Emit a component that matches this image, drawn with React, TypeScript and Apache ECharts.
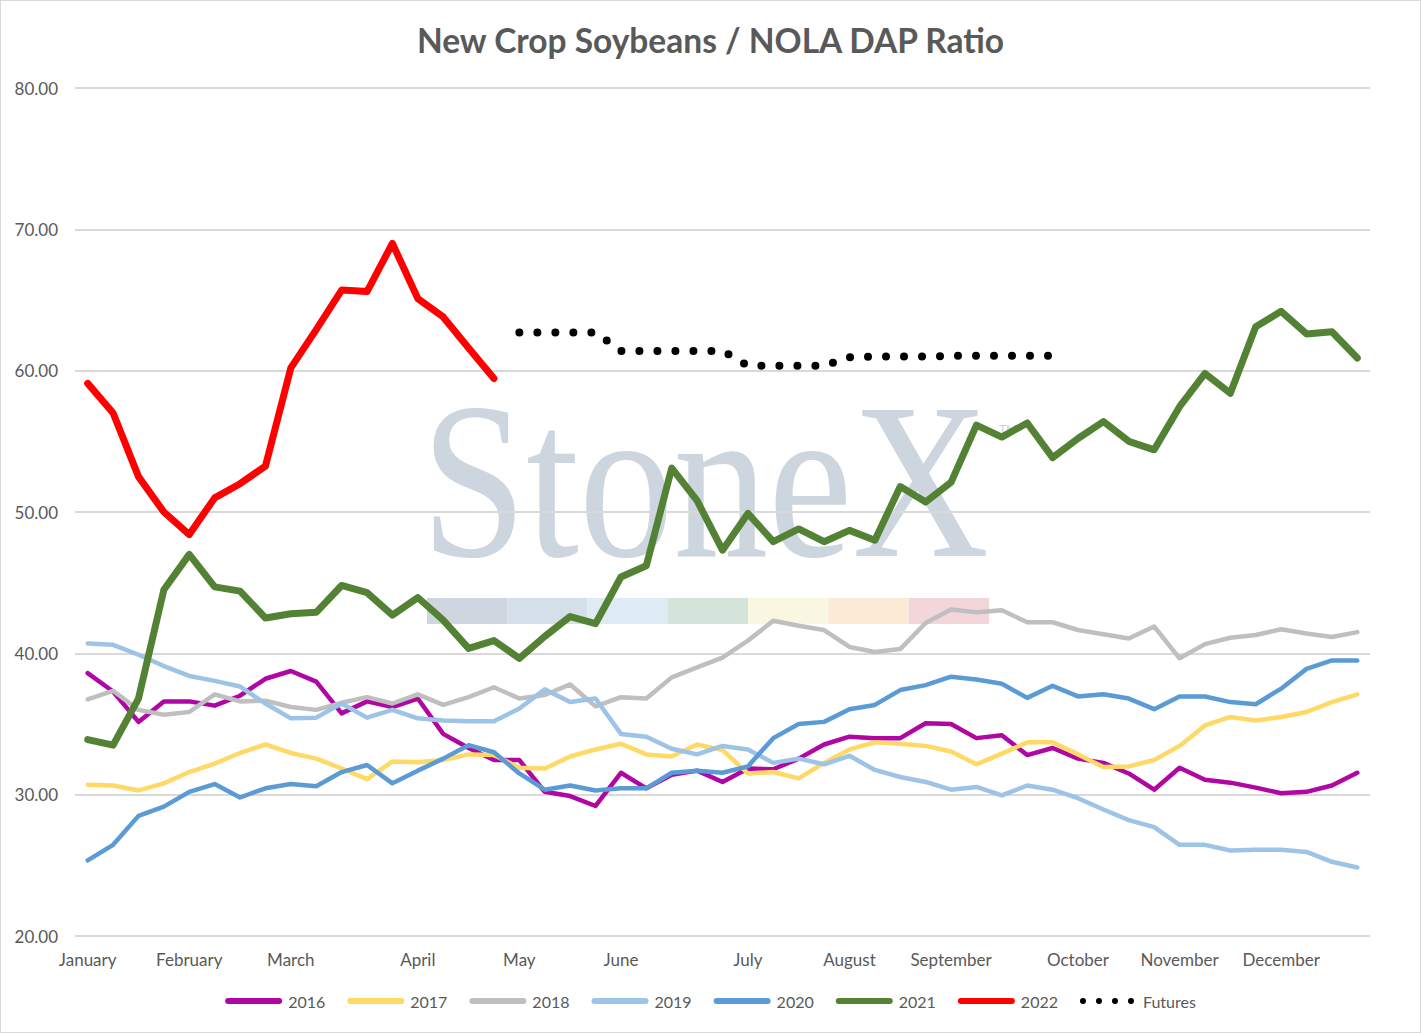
import React, { useEffect, useRef } from "react";
import * as echarts from "echarts";

// weekly points, "Mon-n" = n-th week of the month
const weeks = [
  "Jan-1", "Jan-2", "Jan-3", "Jan-4",
  "Feb-1", "Feb-2", "Feb-3", "Feb-4",
  "Mar-1", "Mar-2", "Mar-3", "Mar-4", "Mar-5",
  "Apr-1", "Apr-2", "Apr-3", "Apr-4",
  "May-1", "May-2", "May-3", "May-4",
  "Jun-1", "Jun-2", "Jun-3", "Jun-4", "Jun-5",
  "Jul-1", "Jul-2", "Jul-3", "Jul-4",
  "Aug-1", "Aug-2", "Aug-3", "Aug-4",
  "Sep-1", "Sep-2", "Sep-3", "Sep-4", "Sep-5",
  "Oct-1", "Oct-2", "Oct-3", "Oct-4",
  "Nov-1", "Nov-2", "Nov-3", "Nov-4",
  "Dec-1", "Dec-2", "Dec-3", "Dec-4",
];

const monthNames: Record<string, string> = {
  Jan: "January", Feb: "February", Mar: "March", Apr: "April", May: "May", Jun: "June",
  Jul: "July", Aug: "August", Sep: "September", Oct: "October", Nov: "November", Dec: "December",
};

const yTicks = [20, 30, 40, 50, 60, 70, 80];

const y2016 = [
  38.6, 37.3, 35.15, 36.6, 36.6, 36.3, 37.0, 38.2, 38.75, 38.0, 35.75, 36.6, 36.2,
  36.8, 34.3, 33.3, 32.45, 32.45, 30.2, 29.9, 29.2, 31.55, 30.45, 31.4, 31.7, 30.9,
  31.85, 31.8, 32.55, 33.55, 34.1, 34.0, 34.0, 35.05, 35.0, 34.0, 34.2, 32.8, 33.3,
  32.55, 32.25, 31.5, 30.35, 31.9, 31.05, 30.85, 30.5, 30.1, 30.2, 30.65, 31.55,
];
const y2017 = [
  30.7, 30.65, 30.3, 30.8, 31.6, 32.2, 32.95, 33.55, 32.95, 32.55, 31.85, 31.1, 32.35,
  32.3, 32.45, 32.85, 32.8, 31.9, 31.85, 32.7, 33.2, 33.6, 32.85, 32.7, 33.55, 33.15,
  31.5, 31.6, 31.15, 32.25, 33.2, 33.7, 33.6, 33.45, 33.05, 32.15, 32.9, 33.7, 33.7,
  32.85, 31.95, 32.0, 32.45, 33.45, 34.9, 35.5, 35.25, 35.5, 35.85, 36.55, 37.1,
];
const y2018 = [
  36.75, 37.35, 36.0, 35.65, 35.85, 37.1, 36.6, 36.65, 36.2, 36.0, 36.5, 36.9, 36.45,
  37.1, 36.35, 36.9, 37.6, 36.8, 37.05, 37.8, 36.25, 36.9, 36.8, 38.3, 39.0, 39.7,
  40.9, 42.3, 41.95, 41.65, 40.45, 40.1, 40.3, 42.15, 43.1, 42.9, 43.05, 42.2, 42.2,
  41.65, 41.35, 41.05, 41.9, 39.65, 40.65, 41.1, 41.3, 41.7, 41.4, 41.15, 41.5,
];
const y2019 = [
  40.7, 40.6, 39.9, 39.1, 38.4, 38.05, 37.65, 36.45, 35.4, 35.45, 36.45, 35.45, 36.0,
  35.4, 35.25, 35.2, 35.2, 36.1, 37.45, 36.55, 36.8, 34.3, 34.1, 33.25, 32.85, 33.45,
  33.2, 32.25, 32.55, 32.15, 32.75, 31.75, 31.25, 30.9, 30.35, 30.55, 29.95, 30.65, 30.35,
  29.75, 28.95, 28.2, 27.7, 26.45, 26.45, 26.05, 26.1, 26.1, 25.95, 25.25, 24.85,
];
const y2020 = [
  25.35, 26.45, 28.5, 29.15, 30.2, 30.75, 29.8, 30.45, 30.75, 30.6, 31.6, 32.1, 30.8,
  31.7, 32.55, 33.5, 33.0, 31.5, 30.35, 30.65, 30.3, 30.45, 30.45, 31.55, 31.7, 31.55,
  32.0, 34.0, 35.0, 35.15, 36.05, 36.35, 37.4, 37.75, 38.35, 38.15, 37.85, 36.85, 37.7,
  36.95, 37.1, 36.8, 36.05, 36.95, 36.95, 36.55, 36.4, 37.5, 38.9, 39.5, 39.5,
];
const y2021 = [
  33.9, 33.5, 36.8, 44.5, 47.0, 44.7, 44.4, 42.5, 42.8, 42.9, 44.8, 44.3, 42.7,
  43.95, 42.35, 40.35, 40.9, 39.65, 41.2, 42.6, 42.1, 45.4, 46.2, 53.1, 50.8, 47.3,
  49.9, 47.9, 48.8, 47.9, 48.7, 48.0, 51.8, 50.7, 52.1, 56.15, 55.3, 56.3, 53.85,
  55.2, 56.4, 55.0, 54.4, 57.45, 59.8, 58.4, 63.1, 64.2, 62.6, 62.75, 60.9,
];
const y2022 = [
  59.1, 57.0, 52.5, 50.0, 48.4, 51.0, 52.0, 53.25, 60.2, 62.9, 65.7, 65.6, 69.0,
  65.1, 63.8, 61.6, 59.45,
];
// futures start at the first week of May
const futuresStart = 17;
const futures = [
  62.7, 62.7, 62.7, 62.7, 61.4, 61.4, 61.4, 61.4, 61.4, 60.35, 60.35,
  60.35, 60.35, 60.95, 61.0, 61.0, 61.0, 61.05, 61.05, 61.05, 61.05, 61.05,
];

const FONT = "Lato, 'Noto Sans', sans-serif";
const TEXT = "#595959";
const bandColors = ["#cfd6df", "#d5dfea", "#deebf5", "#d5e4da", "#f9f7e1", "#fbead5", "#f2d6d9"];

function line(name: string, data: (number | null)[], color: string, width: number) {
  return {
    name,
    type: "line",
    data,
    symbol: "none",
    silent: true,
    lineStyle: { color, width, cap: "round", join: "round" },
    itemStyle: { color },
    emphasis: { disabled: true },
  };
}

export default function App() {
  const ref = useRef<HTMLDivElement | null>(null);

  useEffect(() => {
    document.body.style.margin = "0";
    const chart = echarts.init(ref.current!, undefined, { renderer: "svg" });

    const futuresData = weeks.map((_, i) =>
      i >= futuresStart && i - futuresStart < futures.length ? futures[i - futuresStart] : null
    );

    // watermark pieces (decoration only)
    const bandX = 427;
    const bandW = 80.3;
    const watermark: any[] = [
      {
        type: "text",
        x: 421,
        y: 481,
        scaleX: 0.853,
        z: -5,
        silent: true,
        style: {
          text: "StoneX",
          fontFamily: "'Liberation Serif', 'DejaVu Serif', serif",
          fontSize: 222,
          fill: "#cdd5df",
          textAlign: "left",
          textVerticalAlign: "middle",
          align: "left",
          verticalAlign: "middle",
        },
      },
      {
        type: "text",
        x: 999,
        y: 428,
        z: -5,
        silent: true,
        style: {
          text: "TM",
          fontFamily: FONT,
          fontSize: 12,
          fill: "#c8d0da",
          textAlign: "left",
          textVerticalAlign: "middle",
          align: "left",
          verticalAlign: "middle",
        },
      },
      ...bandColors.map((c, k) => ({
        type: "rect",
        z: -5,
        silent: true,
        shape: { x: bandX + k * bandW, y: 598, width: bandW, height: 26 },
        style: { fill: c },
      })),
    ];

    chart.setOption({
      animation: false,
      title: {
        text: "New Crop Soybeans / NOLA DAP Ratio",
        left: "center",
        top: 23,
        padding: 0,
        textStyle: { color: TEXT, fontSize: 33.5, fontWeight: "bold", fontFamily: FONT },
      },
      grid: { left: 75, right: 51, top: 88, bottom: 97 },
      legend: {
        top: 988,
        left: "center",
        itemWidth: 51,
        itemHeight: 16,
        itemGap: 22,
        selectedMode: false,
        lineStyle: { width: 6 },
        itemStyle: { opacity: 0, borderWidth: 0 },
        textStyle: { color: TEXT, fontSize: 16, fontFamily: FONT, padding: [0, 0, 0, 4] },
        data: [
          "2016", "2017", "2018", "2019", "2020", "2021", "2022",
          { name: "Futures", lineStyle: { width: 6, type: [0, 16], cap: "round" } },
        ],
      },
      graphic: { elements: watermark },
      xAxis: {
        type: "category",
        data: weeks,
        boundaryGap: true,
        axisLine: { show: false },
        axisTick: { show: false },
        splitLine: { show: false },
        axisLabel: {
          interval: 0,
          margin: 15,
          color: TEXT,
          fontSize: 17,
          fontFamily: FONT,
          formatter: (v: string) => (v.endsWith("-1") ? monthNames[v.slice(0, 3)] : ""),
        },
      },
      yAxis: {
        type: "value",
        min: yTicks[0],
        max: yTicks[yTicks.length - 1],
        interval: 10,
        axisLine: { show: false },
        axisTick: { show: false },
        axisLabel: {
          margin: 17,
          color: TEXT,
          fontSize: 17,
          fontFamily: FONT,
          formatter: (v: number) => v.toFixed(2),
        },
        splitLine: { lineStyle: { color: "#d9d9d9", width: 2 } },
      },
      series: [
        line("2016", y2016, "#b006a4", 4.5),
        line("2017", y2017, "#ffd966", 4.5),
        line("2018", y2018, "#bfbfbf", 4.5),
        line("2019", y2019, "#9dc3e6", 4.5),
        line("2020", y2020, "#5b9bd5", 4.5),
        line("2021", y2021, "#548235", 7),
        line("2022", y2022, "#ff0000", 7),
        {
          ...line("Futures", futuresData, "#000000", 8),
          lineStyle: { color: "#000000", width: 8, type: [0, 18], cap: "round", join: "round" },
        },
      ],
    });

    return () => chart.dispose();
  }, []);

  return (
    <div
      ref={ref}
      style={{
        width: 1421,
        height: 1033,
        background: "#fff",
        boxShadow: "inset 0 0 0 1px #d9d9d9",
      }}
    />
  );
}
